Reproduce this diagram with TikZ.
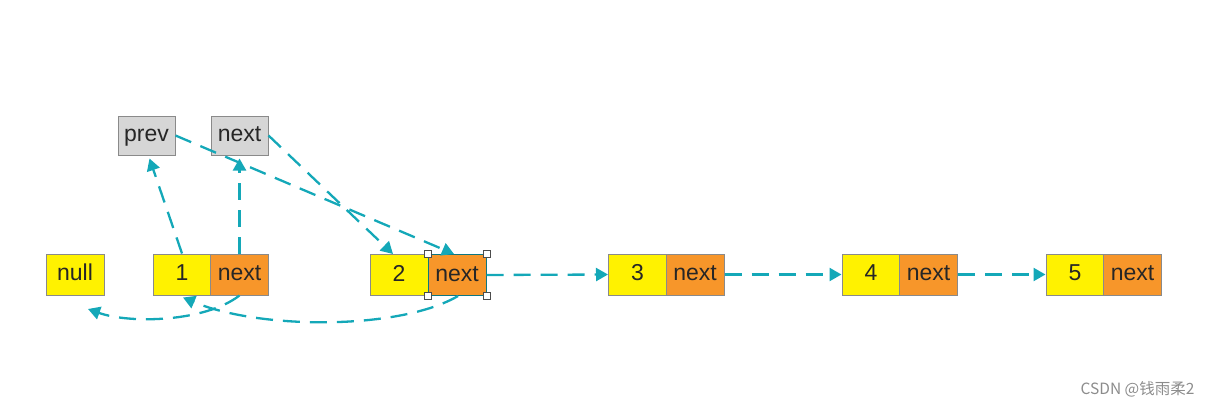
\documentclass[tikz,border=0pt]{standalone}
\usepackage{fontspec}
\setmainfont{Liberation Sans}
\newfontfamily\cjk{Noto Sans CJK SC}
\usetikzlibrary{arrows.meta,calc}
\definecolor{arr}{HTML}{14A8B8}
\definecolor{yel}{HTML}{FFF200}
\definecolor{org}{HTML}{F7962A}
\definecolor{gry}{HTML}{D6D6D6}
\definecolor{bord}{HTML}{8A8A8A}
\begin{document}
\begin{tikzpicture}[x=1pt,y=-1pt,
  cell/.style={draw=bord, line width=1pt, minimum width=58pt, minimum height=41pt, inner sep=0pt, font=\fontsize{23}{26}\selectfont, text=black!85, text height=12.5pt, text depth=0pt},
  val/.style={cell, fill=yel},
  nxt/.style={cell, fill=org},
  ptr/.style={cell, fill=gry, minimum width=57pt, minimum height=39pt},
  link/.style={draw=arr, line width=2.3pt, dash pattern=on 17pt off 10pt, -{Triangle[length=12pt,width=13pt]}},
  handle/.style={draw=black!70, fill=white, line width=0.8pt, minimum size=7pt, inner sep=0pt}]
\useasboundingbox (0,0) rectangle (1212,412);
\node[val] (null) at (75,274.5) {null};
\node[val] (n1v) at (182,274.5) {1};
\node[nxt] (n1n) at (239.5,274.5) {next};
\node[val] (n2v) at (399,275) {2};
\node[nxt, draw=arr!70!black] (n2n) at (457,275) {next};
\node[val] (n3v) at (637.5,274.5) {3};
\node[nxt] (n3n) at (695,274.5) {next};
\node[val] (n4v) at (871,274.5) {4};
\node[nxt] (n4n) at (928.5,274.5) {next};
\node[val] (n5v) at (1075,274.5) {5};
\node[nxt] (n5n) at (1132.5,274.5) {next};
\node[ptr] (prev) at (146.5,135.5) {prev};
\node[ptr] (nextp) at (239.5,135.5) {next};
% selection handles
\node[handle] (h1) at (n2n.north west) {};
\node[handle] (h2) at (n2n.north east) {};
\node[handle] (h3) at (n2n.south west) {};
\node[handle] (h4) at (n2n.south east) {};
\coordinate (nullend) at (88,309);
% links
\draw[link] (n1v.north) -- ([xshift=3pt,yshift=-3pt]prev.south);
\draw[link] (n1n.north) -- ([yshift=-3pt]nextp.south);
\draw[link] (prev.east) -- ([xshift=-3pt]n2n.north);
\draw[link] (nextp.east) -- ([xshift=-6pt]n2v.north);
\draw[link] (n1n.south) .. controls (205,322) and (130,324) .. (nullend);
\draw[link] ([xshift=1pt]n2n.south) .. controls (400,330) and (260,330) .. ([xshift=1pt,yshift=-2pt]n1v.south);
\draw[link] (n2n.east) -- (n3v.west);
\draw[link] (n3n.east) -- (n4v.west);
\draw[link] (n4n.east) -- (n5v.west);
\node[font=\cjk\fontsize{15.5}{18}\selectfont, text=black!45, anchor=east] (wm) at (1198,389) {CSDN @钱雨柔2};
\end{tikzpicture}
\end{document}
